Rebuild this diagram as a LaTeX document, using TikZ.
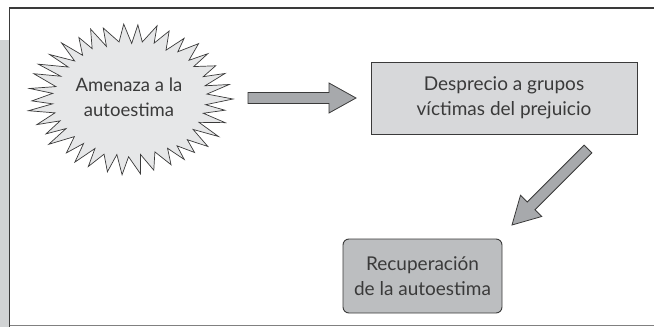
\documentclass[tikz,border=0pt]{standalone}
\usepackage{fontspec}
\setmainfont{Lato}
\usetikzlibrary{calc}
\definecolor{txtc}{HTML}{3A3A3A}
\definecolor{linec}{HTML}{3A3A3A}
\definecolor{bandc}{HTML}{D1D3D4}
\definecolor{burstc}{HTML}{E6E7E8}
\definecolor{box1c}{HTML}{D7D8DA}
\definecolor{box2c}{HTML}{BCBEC0}
\definecolor{arrc}{HTML}{A7A9AC}
\tikzset{
  txtsty/.style={text=txtc, font=\fontsize{19}{25}\selectfont, align=center, inner sep=0pt},
  box1sty/.style={txtsty, draw=linec, line width=0.9pt, fill=box1c, minimum width=266pt, minimum height=72pt},
  box2sty/.style={txtsty, draw=linec, line width=0.9pt, fill=box2c, rounded corners=6pt, minimum width=159pt, minimum height=74pt},
  burststy/.style={draw=linec, line width=0.7pt, fill=burstc, line join=miter},
  arrowsty/.style={draw=linec, line width=0.8pt, fill=arrc, line join=miter},
  framesty/.style={draw=linec, line width=1.6pt},
  bottomsty/.style={draw=gray, line width=1.2pt}
}
\newcommand{\blkarrow}[2]{%
  \coordinate (hb) at ($(#2)!27pt!(#1)$);
  \draw[arrowsty] ($(#1)!5.5pt!90:(#2)$) -- ($(hb)!5.5pt!90:(#2)$) -- ($(hb)!15pt!90:(#2)$) -- (#2)
    -- ($(hb)!15pt!-90:(#2)$) -- ($(hb)!5.5pt!-90:(#2)$) -- ($(#1)!5.5pt!-90:(#2)$) -- cycle;}
\begin{document}
\begin{tikzpicture}[x=1pt,y=-1pt]
\useasboundingbox (0,0) rectangle (654,327);
\fill[bandc] (0,40) rectangle (8.5,327);
\draw[framesty] (655,8) -- (9.5,8) -- (9.5,327);
\draw[bottomsty] (9.5,325.6) -- (655,325.6);
% burst
\pgfmathsetseed{11}
\coordinate (b0) at (233,99);
\foreach \i in {1,...,75}{
  \pgfmathsetmacro{\bang}{4.7368*\i+1.6*rand}
  \pgfmathsetmacro{\bpar}{mod(\i,2)}
  \pgfmathsetmacro{\brr}{(1-\bpar)*(0.93+0.07*rnd)+\bpar*(0.72+0.05*rnd)}
  \pgfmathsetmacro{\bx}{130+103*\brr*cos(\bang)}
  \pgfmathsetmacro{\by}{99+77*\brr*sin(\bang)}
  \coordinate (b\i) at (\bx,\by);
}
\draw[burststy] (b0) \foreach \i in {1,...,75}{ -- (b\i) } -- cycle;
\node[txtsty, font=\fontsize{18.5}{25}\selectfont] (amen) at (129,97) {Amenaza a la\\autoestima};
\node[box1sty] (desp) at (504,98) {Desprecio a grupos\\víctimas del prejuicio};
\node[box2sty] (recu) at (422.5,276) {Recuperación\\de la autoestima};
\coordinate (a1s) at (248,98);
\coordinate (a1e) at (356,98);
\coordinate (a2s) at (588,149);
\coordinate (a2e) at (512,225);
\blkarrow{a1s}{a1e}
\blkarrow{a2s}{a2e}
\end{tikzpicture}
\end{document}
